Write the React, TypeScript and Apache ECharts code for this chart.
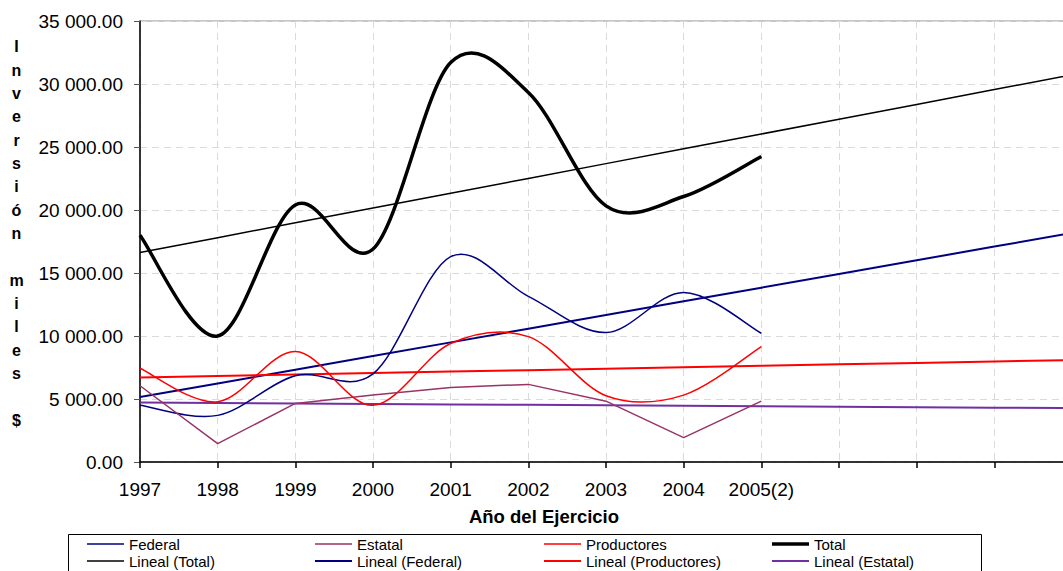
import React, { useEffect, useRef } from "react";
import * as echarts from "echarts";

const years = ["1997", "1998", "1999", "2000", "2001", "2002", "2003", "2004", "2005(2)"];
const forecastCategories = ["", "", "", ""];
const federal = [4500, 3700, 6850, 7000, 16300, 13150, 10270, 13460, 10220];
const estatal = [6050, 1460, 4650, 5310, 5920, 6160, 4830, 1940, 4830];
const productores = [7440, 4780, 8760, 4500, 9400, 9950, 5260, 5310, 9160];
const total = [18000, 10000, 20400, 16900, 31700, 29330, 20330, 21070, 24250];
const yTicks = [0, 5000, 10000, 15000, 20000, 25000, 30000, 35000];
const yTitle = "Inversión miles $";
const xTitle = "Año del Ejercicio";

const FONT = "'Liberation Sans', Arial, sans-serif";

// Least-squares linear trend (as Excel's "Lineal" trendline), extended over all categories
function linearTrend(values: number[], count: number): number[] {
  const n = values.length;
  const mx = (n - 1) / 2;
  const my = values.reduce((a, b) => a + b, 0) / n;
  let sxy = 0;
  let sxx = 0;
  values.forEach((v, i) => {
    sxy += (i - mx) * (v - my);
    sxx += (i - mx) * (i - mx);
  });
  const slope = sxy / sxx;
  const intercept = my - slope * mx;
  const out: number[] = [];
  for (let i = 0; i < count; i++) out.push(intercept + slope * i);
  return out;
}

function fmt(v: number): string {
  const s = v.toFixed(2);
  const [int, dec] = s.split(".");
  const withSep = int.replace(/\B(?=(\d{3})+(?!\d))/g, " ");
  return withSep + "." + dec;
}

export default function App() {
  const ref = useRef<HTMLDivElement>(null);
  useEffect(() => {
    if (!ref.current) return;
    const chart = echarts.init(ref.current, null, { renderer: "svg" });
    const categories = [...years, ...forecastCategories];
    const nCat = categories.length;

    const colors = {
      federal: "#000080",
      estatal: "#993366",
      productores: "#FF0000",
      total: "#000000",
      linTotal: "#000000",
      linFederal: "#000080",
      linProductores: "#FF0000",
      linEstatal: "#7030A0",
    };

    const lineSeries = (name: string, data: number[], color: string, width: number, z: number) => ({
      name,
      type: "line",
      data,
      color,
      symbol: "none",
      z,
      lineStyle: { color, width },
      itemStyle: { color },
    });

    // Excel-like (Catmull-Rom) smoothed line drawn through the axis scales
    const smoothSeries = (name: string, values: number[], color: string, width: number, z: number) => ({
      name,
      type: "custom",
      color,
      z,
      itemStyle: { color },
      data: values.map((v, i) => [i, v]),
      encode: { x: 0, y: 1 },
      renderItem: (params: any, api: any) => {
        if (params.dataIndex !== 0) return null;
        const pts = values.map((v, i) => api.coord([i, v]));
        const n = pts.length;
        let d = `M${pts[0][0]},${pts[0][1]}`;
        for (let i = 0; i < n - 1; i++) {
          const p0 = pts[Math.max(i - 1, 0)];
          const p1 = pts[i];
          const p2 = pts[i + 1];
          const p3 = pts[Math.min(i + 2, n - 1)];
          const c1x = p1[0] + (p2[0] - p0[0]) / 6;
          const c1y = p1[1] + (p2[1] - p0[1]) / 6;
          const c2x = p2[0] - (p3[0] - p1[0]) / 6;
          const c2y = p2[1] - (p3[1] - p1[1]) / 6;
          d += ` C${c1x},${c1y} ${c2x},${c2y} ${p2[0]},${p2[1]}`;
        }
        return {
          type: "path",
          shape: { pathData: d },
          style: { fill: "none", stroke: color, lineWidth: width, lineJoin: "round" },
          silent: true,
        };
      },
    });

    const series = [
      smoothSeries("Federal", federal, colors.federal, 1.5, 3),
      lineSeries("Estatal", estatal, colors.estatal, 1.5, 3),
      smoothSeries("Productores", productores, colors.productores, 1.5, 3),
      smoothSeries("Total", total, colors.total, 3.5, 4),
      lineSeries("Lineal (Total)", linearTrend(total, nCat), colors.linTotal, 1.5, 2),
      lineSeries("Lineal (Federal)", linearTrend(federal, nCat), colors.linFederal, 2, 2),
      lineSeries("Lineal (Productores)", linearTrend(productores, nCat), colors.linProductores, 2, 2),
      lineSeries("Lineal (Estatal)", linearTrend(estatal, nCat), colors.linEstatal, 2, 2),
    ];

    const legendPos: [string, number, number, number][] = [
      ["Federal", 87, 536, 1.5],
      ["Estatal", 315, 536, 1.5],
      ["Productores", 544, 536, 1.5],
      ["Total", 772, 536, 3.5],
      ["Lineal (Total)", 87, 553, 1.5],
      ["Lineal (Federal)", 315, 553, 2],
      ["Lineal (Productores)", 544, 553, 2],
      ["Lineal (Estatal)", 772, 553, 2],
    ];

    const legends = legendPos.map(([name, left, top, h]) => ({
      show: true,
      left,
      top,
      padding: 0,
      itemWidth: 37,
      itemHeight: h,
      itemGap: 0,
      selectedMode: false,
      data: [{ name, icon: "rect" }],
      textStyle: { fontSize: 15, lineHeight: 16, color: "#000", fontFamily: FONT },
    }));

    chart.setOption({
      animation: false,
      backgroundColor: "#fff",
      textStyle: { fontFamily: FONT },
      grid: {
        left: 140,
        top: 21,
        width: 932,
        height: 441,
        show: true,
        borderColor: "#8c8c8c",
        borderWidth: 1,
        containLabel: false,
      },
      legend: legends,
      xAxis: {
        type: "category",
        data: categories,
        boundaryGap: false,
        axisLine: { show: true, lineStyle: { color: "#000", width: 1.5 } },
        axisTick: { show: true, length: 6, interval: 0, lineStyle: { color: "#000", width: 1.5 } },
        axisLabel: { interval: 0, fontSize: 19, color: "#000", margin: 18, fontFamily: FONT },
        splitLine: { show: true, interval: 0, lineStyle: { color: "#dadada", type: [7, 5], width: 1 } },
      },
      yAxis: {
        type: "value",
        min: yTicks[0],
        max: yTicks[yTicks.length - 1],
        interval: yTicks[1] - yTicks[0],
        axisLine: { show: true, lineStyle: { color: "#000", width: 1.5 } },
        axisTick: { show: true, length: 6, lineStyle: { color: "#555" } },
        axisLabel: { fontSize: 19, color: "#000", margin: 17, fontFamily: FONT, formatter: (v: number) => fmt(v) },
        splitLine: { show: true, lineStyle: { color: "#dadada", type: [7, 5], width: 1 } },
      },
      graphic: [
        {
          type: "text",
          x: 16.5,
          y: 35,
          style: {
            text: yTitle.split("").join("\n"),
            fontSize: 16,
            fontWeight: "bold",
            fontFamily: FONT,
            fill: "#000",
            align: "center",
            verticalAlign: "top",
            lineHeight: 23.35,
          },
        },
        {
          type: "text",
          x: 544,
          y: 516,
          style: {
            text: xTitle,
            fontSize: 18.5,
            fontWeight: "bold",
            fontFamily: FONT,
            fill: "#000",
            align: "center",
            verticalAlign: "middle",
          },
        },
        {
          type: "rect",
          shape: { x: 68.5, y: 534.5, width: 913, height: 60 },
          style: { fill: "none", stroke: "#000", lineWidth: 1 },
          z: -1,
        },
      ],
      series,
    });
    return () => chart.dispose();
  }, []);
  return (
    <div style={{ position: "absolute", left: 0, top: 0, width: 1063, height: 571, overflow: "hidden" }}>
      <div ref={ref} style={{ width: 1090, height: 571 }} />
    </div>
  );
}
